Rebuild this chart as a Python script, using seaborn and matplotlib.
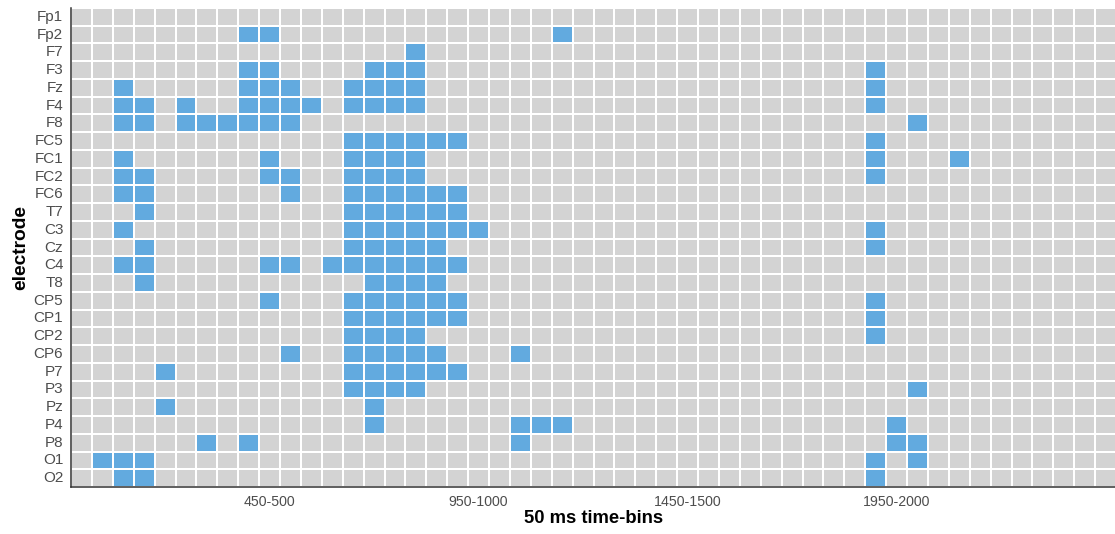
import numpy as np
import pandas as pd
import matplotlib
matplotlib.use('Agg')
import matplotlib.pyplot as plt
from matplotlib.colors import ListedColormap
import seaborn as sns

sns.set_style('white')
plt.rcParams['font.family'] = ['Liberation Sans', 'DejaVu Sans']

# electrodes, top to bottom
electrodes = ['Fp1', 'Fp2', 'F7', 'F3', 'Fz', 'F4', 'F8', 'FC5', 'FC1', 'FC2',
              'FC6', 'T7', 'C3', 'Cz', 'C4', 'T8', 'CP5', 'CP1', 'CP2', 'CP6',
              'P7', 'P3', 'Pz', 'P4', 'P8', 'O1', 'O2']

# 50 ms bins, start times in ms
bin_starts = list(range(0, 2500, 50))
bin_labels = [f'{s}-{s + 50}' for s in bin_starts]
shown_labels = ['450-500', '950-1000', '1450-1500', '1950-2000']

# start (ms) of the significant bins for each electrode, same order as electrodes
sig_bins = [
    [],
    [400, 450, 1150],
    [800],
    [400, 450, 700, 750, 800, 1900],
    [100, 400, 450, 500, 650, 700, 750, 800, 1900],
    [100, 150, 250, 400, 450, 500, 550, 650, 700, 750, 800, 1900],
    [100, 150, 250, 300, 350, 400, 450, 500, 2000],
    [650, 700, 750, 800, 850, 900, 1900],
    [100, 450, 650, 700, 750, 800, 1900, 2100],
    [100, 150, 450, 500, 650, 700, 750, 800, 1900],
    [100, 150, 500, 650, 700, 750, 800, 850, 900],
    [150, 650, 700, 750, 800, 850, 900],
    [100, 650, 700, 750, 800, 850, 900, 950, 1900],
    [150, 650, 700, 750, 800, 850, 1900],
    [100, 150, 450, 500, 600, 650, 700, 750, 800, 850, 900],
    [150, 700, 750, 800, 850],
    [450, 650, 700, 750, 800, 850, 900, 1900],
    [650, 700, 750, 800, 850, 900, 1900],
    [650, 700, 750, 800, 1900],
    [500, 650, 700, 750, 800, 850, 1050],
    [200, 650, 700, 750, 800, 850, 900],
    [650, 700, 750, 800, 2000],
    [200, 700],
    [700, 1050, 1100, 1150, 1950],
    [300, 400, 1050, 1950, 2000],
    [50, 100, 150, 1900, 2000],
    [100, 150, 1900],
]

mat = np.zeros((len(electrodes), len(bin_starts)))
for i, starts in enumerate(sig_bins):
    for s in starts:
        mat[i, bin_starts.index(s)] = 1
df = pd.DataFrame(mat, index=electrodes, columns=bin_labels)

W, H = 1115, 534
fig = plt.figure(figsize=(W / 100, H / 100), dpi=100)
ax = fig.add_axes([71 / W, 1 - 487 / H, 1045 / W, 479 / H])

cmap = ListedColormap(['#d3d3d3', '#62aadf'])
sns.heatmap(df, cmap=cmap, vmin=0, vmax=1, cbar=False, linewidths=1.4,
            linecolor='white', ax=ax)

ax.set_yticks(np.arange(len(electrodes)) + 0.5)
ax.set_yticklabels(electrodes, rotation=0)
xt = [bin_labels.index(l) + 0.5 for l in shown_labels]
ax.set_xticks(xt)
ax.set_xticklabels(shown_labels, rotation=0)
ax.tick_params(axis='both', length=3, width=1, color='#333333',
               labelcolor='#4d4d4d', pad=2.5)
ax.tick_params(axis='y', labelsize=11)
ax.tick_params(axis='x', labelsize=10.2)

for side in ['left', 'bottom']:
    ax.spines[side].set_visible(True)
    ax.spines[side].set_color('#333333')
    ax.spines[side].set_linewidth(1.1)

ax.set_ylabel('electrode', fontsize=13.8, fontweight='bold', color='black')
ax.set_xlabel('50 ms time-bins', fontsize=13.3, fontweight='bold', color='black')
ax.yaxis.set_label_coords(-0.040, 0.5)
ax.xaxis.set_label_coords(0.5, -0.048)

fig.savefig('out.png', dpi=100)
